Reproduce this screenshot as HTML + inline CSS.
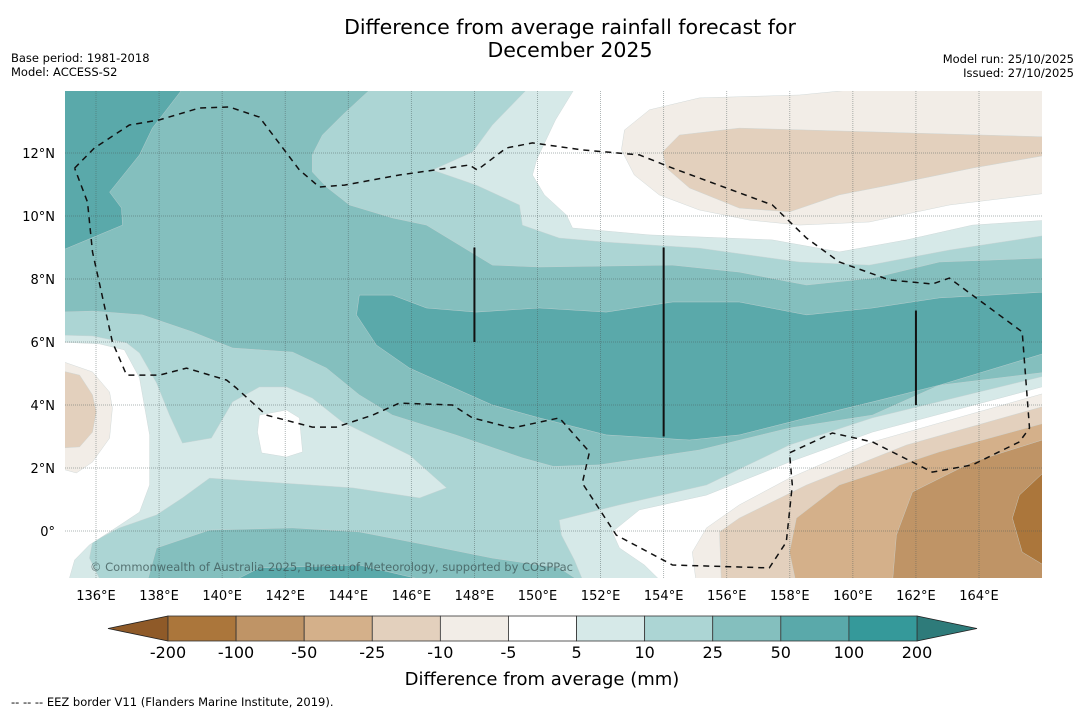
<!DOCTYPE html>
<html><head><meta charset="utf-8"><style>
html,body{margin:0;padding:0;background:#fff}
svg text{font-family:"DejaVu Sans","Liberation Sans",sans-serif}
</style></head><body>
<svg id="fig" width="1085" height="713" viewBox="0 0 1085 713" xmlns="http://www.w3.org/2000/svg">
<rect width="1085" height="713" fill="#fff"/>
<text x="570" y="34" font-size="20.5" text-anchor="middle">Difference from average rainfall forecast for</text>
<text x="570" y="57" font-size="20.5" text-anchor="middle">December 2025</text>
<text x="11" y="62" font-size="11.5">Base period: 1981-2018</text>
<text x="11" y="76" font-size="11.5">Model: ACCESS-S2</text>
<text x="1074" y="63" font-size="11.5" text-anchor="end">Model run: 25/10/2025</text>
<text x="1074" y="77" font-size="11.5" text-anchor="end">Issued: 27/10/2025</text>
<defs><clipPath id="mapclip"><rect x="65" y="91" width="977" height="487"/></clipPath></defs>
<g id="map" clip-path="url(#mapclip)"></g>
<g id="axes"></g>
<g id="cbar"></g>
<text x="542" y="685" font-size="18" text-anchor="middle">Difference from average (mm)</text>
<text x="11" y="706" font-size="11.5">--  --  -- EEZ border V11 (Flanders Marine Institute, 2019).</text>
</svg>
<script>
// ---- data ----
const lonTicks = [136,138,140,142,144,146,148,150,152,154,156,158,160,162,164];
const latTicks = [0,2,4,6,8,10,12];
const levels = [-200,-100,-50,-25,-10,-5,5,10,25,50,100,200];
const levelColors = ["#ab763b","#bf9466","#d4b08a","#e3d0bd","#f2ede7","#ffffff","#d6e9e8","#acd5d4","#84bfbe","#5aa9aa","#35999a"];
const extColors = ["#8f5a28","#2e7b7a"];
// contour regions [lon,lat]
const ge25Upper = [[135,14.2],[144.89,14.2],[143.81,13.2],[143.18,12.57],[142.86,11.94],[142.86,11.4],[143.31,10.92],[144.04,10.35],[145.4,9.94],[146.48,9.71],[147.52,9.08],[148.57,8.44],[150.06,8.38],[154.28,8.44],[156.4,8.22],[158.53,7.81],[160.62,8.03],[162.74,8.54],[166.2,8.67],[166.2,5.05],[162.74,4.63],[160.62,3.68],[157.99,3.27],[155.13,2.57],[151.96,2.1],[150.5,2.05],[149.52,2.32],[147.4,3.05],[145.4,3.68],[144.35,4.32],[143.31,5.17],[142.23,5.68],[140.33,5.81],[139.06,6.32],[137.47,6.86],[135.89,6.98],[134.8,6.95]];
const ge25Lower = [[137.6,-1.7],[137.92,-0.54],[139.6,0.03],[142.23,0.1],[144.35,-0.03],[146.48,-0.44],[148.57,-0.86],[150.69,-1.17],[151.5,-1.7]];
const ge50TopLeft = [[134.8,14.2],[138.87,14.2],[137.79,12.79],[137.38,11.94],[136.43,10.76],[136.81,10.25],[136.84,9.71],[134.8,8.86]];
const ge50Mid = [[144.35,7.49],[145.4,7.49],[146.48,7.08],[148.06,6.95],[150.06,7.08],[152.18,6.95],[154.28,7.27],[156.4,7.27],[158.53,6.86],[160.62,7.08],[162.74,7.4],[166.2,7.59],[166.2,5.68],[162.74,4.63],[160.62,4.1],[158.53,3.59],[156.4,3.05],[154.82,2.89],[152.18,3.05],[150.06,3.59],[148.57,4.0],[145.94,5.17],[144.89,5.9],[144.26,6.86]];
const ge50Bottom = [[140.14,-1.7],[141.18,-1.17],[144.35,-1.08],[146.98,-1.7]];
const lt10NE = [[149.84,14.2],[148.57,12.89],[147.94,12.03],[146.67,11.46],[148.06,10.98],[149.43,10.35],[149.52,9.71],[150.69,9.3],[152.18,9.17],[155.13,8.98],[158.3,8.54],[160.52,8.44],[163.06,8.92],[166.2,9.4],[166.2,14.2]];
const lt5NE = [[151.27,14.2],[150.57,13.05],[149.97,11.78],[149.84,11.3],[150.22,10.67],[150.92,10.03],[151.11,9.62],[153.55,9.4],[157.45,9.24],[159.57,8.86],[161.7,9.24],[163.79,9.71],[166.2,9.87],[166.2,14.2]];
const leM5NE = [[166.2,14.2],[161.95,14.2],[158.3,13.84],[155.13,13.75],[153.55,13.37],[152.76,12.73],[152.66,12.1],[153.07,11.3],[153.86,10.67],[155.13,10.19],[156.72,9.87],[158.3,9.71],[160.52,9.81],[163.06,10.35],[166.2,10.73]];
const leM10NE = [[153.96,12.03],[154.5,12.57],[156.4,12.79],[166.2,12.51],[166.2,11.94],[163.79,11.52],[161.16,10.98],[159.57,10.67],[157.99,10.13],[156.4,10.25],[154.82,10.89],[154.09,11.52]];
const lt10W = [[134.8,6.22],[135.89,6.19],[136.97,5.97],[137.38,5.65],[137.92,4.7],[138.33,3.68],[138.74,2.79],[139.66,2.95],[140.33,4.1],[141.18,4.57],[142.04,4.57],[142.86,4.22],[143.81,3.46],[145.94,2.41],[147.11,1.37],[146.26,1.05],[144.13,1.37],[139.6,1.68],[138.74,1.05],[137.92,0.51],[136.74,0.1],[135.89,-0.35],[135.79,-0.86],[136.2,-1.7],[134.8,-1.7]];
const lt5W = [[134.8,6.0],[136.11,5.94],[136.9,5.75],[137.38,4.86],[137.7,3.05],[137.7,1.46],[137.38,0.6],[136.43,-0.03],[135.79,-0.44],[135.32,-0.92],[135.1,-1.7],[134.8,-1.7]];
const lt5Hole = [[141.18,3.68],[142.04,3.84],[142.45,3.59],[142.55,2.51],[142.04,2.35],[141.25,2.48],[141.12,3.14]];
const leM5W = [[134.8,5.43],[135.89,5.05],[136.43,4.41],[136.52,3.9],[136.43,2.95],[135.89,2.19],[135.38,1.84],[134.8,2.0]];
const leM10W = [[134.8,5.11],[135.48,4.95],[135.89,4.32],[136.01,3.78],[135.89,3.14],[135.48,2.67],[134.8,2.63]];
const lt10SE = [[166.2,4.95],[160.62,3.59],[157.99,2.73],[155.36,1.46],[152.6,0.83],[150.69,0.35],[150.76,-0.13],[151.17,-0.92],[151.49,-1.7],[166.2,-1.7]];
const lt5SE = [[166.2,4.63],[160.62,3.14],[157.99,2.19],[155.36,1.14],[153.23,0.67],[152.37,-0.03],[152.6,-0.54],[153.39,-1.08],[154.02,-1.7],[166.2,-1.7]];
const leM5SE = [[166.2,4.41],[160.62,2.83],[157.99,1.68],[156.4,0.83],[155.36,0.1],[154.91,-0.67],[155.04,-1.7],[166.2,-1.7]];
const leM10SE = [[166.2,4.0],[161.7,2.73],[158.53,1.46],[156.4,0.41],[155.77,-0.03],[155.83,-1.7],[166.2,-1.7]];
const leM25SE = [[166.2,3.46],[162.74,2.51],[159.57,1.46],[158.21,0.41],[157.99,-0.67],[158.21,-1.7],[166.2,-1.7]];
const leM50SE = [[166.2,2.95],[163.79,2.19],[161.89,1.24],[161.38,-0.13],[161.25,-1.7],[166.2,-1.7]];
const leM100SE = [[166.2,2.0],[165.28,1.14],[165.06,0.41],[165.37,-0.67],[166.2,-1.17]];
const eezLoop = [[135.32,11.52],[135.95,12.16],[137.06,12.89],[138.01,13.05],[139.28,13.43],[140.23,13.46],[141.18,13.14],[142.45,11.46],[143.08,10.92],[143.88,10.98],[145.62,11.3],[147.84,11.62],[148.09,11.46],[149.01,12.16],[149.84,12.32],[151.42,12.1],[153.23,11.94],[154.28,11.52],[157.45,10.35],[158.53,9.3],[159.57,8.54],[161.16,7.97],[162.52,7.84],[163.06,8.03],[165.37,6.32],[165.6,3.27],[165.28,2.83],[163.79,2.1],[162.52,1.87],[160.62,2.83],[159.35,3.11],[157.99,2.48],[158.08,1.46],[157.89,-0.35],[157.35,-1.17],[154.28,-1.08],[152.5,-0.13],[151.42,1.52],[151.65,2.51],[150.69,3.59],[149.2,3.27],[147.94,3.59],[147.3,4.0],[145.62,4.06],[144.77,3.68],[143.62,3.3],[142.86,3.3],[141.4,3.68],[140.45,4.54],[140.14,4.79],[138.87,5.17],[138.01,4.95],[136.97,4.95],[136.52,6.0],[135.89,8.86],[135.73,10.44],[135.32,11.52]];
const boundaryLon = [148,154,162];
const boundaryLatTop = [9,9,7];
const boundaryLatBot = [6,3,4];

// ---- axes ----
const X = lon => 96 + (lon - 136) * 31.536;
const Y = lat => 531 - lat * 31.5;
const NS = "http://www.w3.org/2000/svg";
const map = document.getElementById('map');
const axes = document.getElementById('axes');
const cbar = document.getElementById('cbar');
function pts(arr){return arr.map(p=>X(p[0]).toFixed(1)+','+Y(p[1]).toFixed(1)).join(' ');}
function poly(parent, arr, fill, name){
  const e=document.createElementNS(NS,'polygon');
  e.setAttribute('points',pts(arr));
  e.setAttribute('fill',fill);
  e.setAttribute('stroke','#c9d3d3');e.setAttribute('stroke-width','0.4');
  
  
  parent.appendChild(e);
}
const base=document.createElementNS(NS,'rect');
base.setAttribute('x',65);base.setAttribute('y',91);base.setAttribute('width',977);base.setAttribute('height',487);base.setAttribute('fill',levelColors[7]);


map.appendChild(base);
poly(map,ge25Upper,levelColors[8],'contour-25-to-50-north');
poly(map,ge25Lower,levelColors[8],'contour-25-to-50-south');
poly(map,ge50TopLeft,levelColors[9],'contour-50-to-100-northwest');
poly(map,ge50Mid,levelColors[9],'contour-50-to-100-band');
poly(map,ge50Bottom,levelColors[9],'contour-50-to-100-south');
poly(map,lt10NE,levelColors[6],'contour-5-to-10-northeast');
poly(map,lt5NE,levelColors[5],'contour-neutral-northeast');
poly(map,leM5NE,levelColors[4],'contour-minus10-to-minus5-northeast');
poly(map,leM10NE,levelColors[3],'contour-minus25-to-minus10-northeast');
poly(map,lt10W,levelColors[6],'contour-5-to-10-west');
poly(map,lt5W,levelColors[5],'contour-neutral-west');
poly(map,lt5Hole,levelColors[5],'contour-neutral-patch');
poly(map,leM5W,levelColors[4],'contour-minus10-to-minus5-west');
poly(map,leM10W,levelColors[3],'contour-minus25-to-minus10-west');
poly(map,lt10SE,levelColors[6],'contour-5-to-10-southeast');
poly(map,lt5SE,levelColors[5],'contour-neutral-southeast');
poly(map,leM5SE,levelColors[4],'contour-minus10-to-minus5-southeast');
poly(map,leM10SE,levelColors[3],'contour-minus25-to-minus10-southeast');
poly(map,leM25SE,levelColors[2],'contour-minus50-to-minus25-southeast');
poly(map,leM50SE,levelColors[1],'contour-minus100-to-minus50-southeast');
poly(map,leM100SE,levelColors[0],'contour-minus200-to-minus100-southeast');
lonTicks.forEach(lon=>{
  const l=document.createElementNS(NS,'line');
  l.setAttribute('x1',X(lon));l.setAttribute('x2',X(lon));l.setAttribute('y1',91);l.setAttribute('y2',578);
  l.setAttribute('stroke','#4a5a5a');l.setAttribute('stroke-opacity','0.55');l.setAttribute('stroke-width','0.8');l.setAttribute('stroke-dasharray','1,1');
  
  
  map.appendChild(l);
});
latTicks.forEach(lat=>{
  const l=document.createElementNS(NS,'line');
  l.setAttribute('x1',65);l.setAttribute('x2',1042);l.setAttribute('y1',Y(lat));l.setAttribute('y2',Y(lat));
  l.setAttribute('stroke','#4a5a5a');l.setAttribute('stroke-opacity','0.6');l.setAttribute('stroke-width','0.8');l.setAttribute('stroke-dasharray','1,1');
  
  
  map.appendChild(l);
});
const eez=document.createElementNS(NS,'polyline');
eez.setAttribute('points',pts(eezLoop));eez.setAttribute('fill','none');eez.setAttribute('stroke','#111');eez.setAttribute('stroke-width','1.5');eez.setAttribute('stroke-dasharray','6,5');


map.appendChild(eez);
boundaryLon.forEach((lon,i)=>{
  const l=document.createElementNS(NS,'line');
  l.setAttribute('x1',X(lon));l.setAttribute('x2',X(lon));l.setAttribute('y1',Y(boundaryLatTop[i]));l.setAttribute('y2',Y(boundaryLatBot[i]));
  l.setAttribute('stroke','#111');l.setAttribute('stroke-width','2');
  
  
  map.appendChild(l);
});
const cr=document.createElementNS(NS,'text');
cr.setAttribute('x',90);cr.setAttribute('y',571);cr.setAttribute('font-size','11.5');cr.setAttribute('fill','#3b5353');cr.setAttribute('fill-opacity','0.75');
cr.setAttribute('textLength','483');
cr.textContent='© Commonwealth of Australia 2025, Bureau of Meteorology, supported by COSPPac';


map.appendChild(cr);
lonTicks.forEach(lon=>{
  const t=document.createElementNS(NS,'text');
  t.setAttribute('x',X(lon));t.setAttribute('y',600);t.setAttribute('font-size','13');t.setAttribute('text-anchor','middle');
  t.textContent=lon+'°E';
  
  
  axes.appendChild(t);
});
latTicks.forEach(lat=>{
  const t=document.createElementNS(NS,'text');
  t.setAttribute('x',55);t.setAttribute('y',Y(lat)+5);t.setAttribute('font-size','13');t.setAttribute('text-anchor','end');
  t.textContent=lat===0?'0°':lat+'°N';
  
  
  axes.appendChild(t);
});
const cbX0=168, cbX1=917, cbY0=616, cbY1=641;
const segW=(cbX1-cbX0)/(levels.length-1);
const C = i => cbX0 + i*segW;
const lt=document.createElementNS(NS,'polygon');
lt.setAttribute('points',`108,${(cbY0+cbY1)/2} ${cbX0},${cbY0} ${cbX0},${cbY1}`);lt.setAttribute('fill',extColors[0]);lt.setAttribute('stroke','#222');lt.setAttribute('stroke-width','0.8');


cbar.appendChild(lt);
const rt=document.createElementNS(NS,'polygon');
rt.setAttribute('points',`977,${(cbY0+cbY1)/2} ${cbX1},${cbY0} ${cbX1},${cbY1}`);rt.setAttribute('fill',extColors[1]);rt.setAttribute('stroke','#222');rt.setAttribute('stroke-width','0.8');


cbar.appendChild(rt);
levelColors.forEach((c,i)=>{
  const r=document.createElementNS(NS,'rect');
  r.setAttribute('x',C(i));r.setAttribute('y',cbY0);r.setAttribute('width',segW);r.setAttribute('height',cbY1-cbY0);
  r.setAttribute('fill',c);r.setAttribute('stroke','#333');r.setAttribute('stroke-width','0.8');
  
  
  cbar.appendChild(r);
});
levels.forEach((v,i)=>{
  const t=document.createElementNS(NS,'text');
  t.setAttribute('x',C(i));t.setAttribute('y',658);t.setAttribute('font-size','16');t.setAttribute('text-anchor','middle');
  t.textContent=v;
  
  
  cbar.appendChild(t);
});
</script>
</body></html>
